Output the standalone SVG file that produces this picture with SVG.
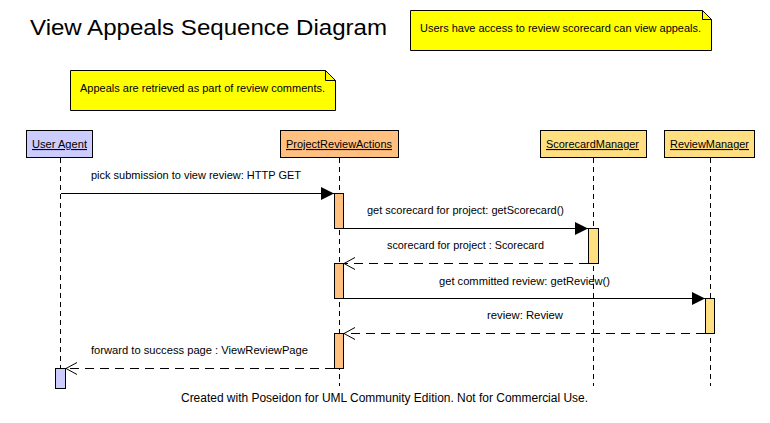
<svg xmlns="http://www.w3.org/2000/svg" width="770" height="423" viewBox="0 0 770 423">
<defs>
<marker id="filled" markerWidth="14" markerHeight="14" refX="13" refY="6.5" orient="auto" markerUnits="userSpaceOnUse">
<path d="M0,0 L13,6.5 L0,13 Z" fill="#000"/>
</marker>
<marker id="open" markerWidth="14" markerHeight="14" refX="11" refY="7" orient="auto" markerUnits="userSpaceOnUse">
<path d="M0,1 L11,7 L0,13" fill="none" stroke="#000" stroke-width="1"/>
</marker>
</defs>
<style>
text{font-family:"Liberation Sans",Arial,sans-serif;fill:#000}
.lbl{font-size:11px}
.box{stroke:#000;stroke-width:1}
.life{stroke:#000;stroke-width:1;stroke-dasharray:5,4;fill:none}
.call{stroke:#000;stroke-width:1;fill:none;marker-end:url(#filled)}
.ret{stroke:#000;stroke-width:1;fill:none;stroke-dasharray:9,6;marker-end:url(#open)}
.note{fill:#ffff00;stroke:#000;stroke-width:1}
.ua{fill:#ccccff}
.pra{fill:#ffc080}
.mgr{fill:#ffdf80}
</style>
<rect width="770" height="423" fill="#fff"/>
<text x="30" y="35" font-size="22" textLength="357" lengthAdjust="spacingAndGlyphs">View Appeals Sequence Diagram</text>

<g id="note1">
<path class="note" d="M410.5,10.5 H702.5 L711.5,19.5 V50.5 H410.5 Z"/>
<path d="M702.5,10.5 V19.5 H711.5" fill="none" stroke="#000"/>
<text class="lbl" x="420" y="32" textLength="281" lengthAdjust="spacingAndGlyphs">Users have access to review scorecard can view appeals.</text>
</g>
<g id="note2">
<path class="note" d="M70.5,70.5 H325.5 L335.5,80.5 V110.5 H70.5 Z"/>
<path d="M325.5,70.5 V80.5 H335.5" fill="none" stroke="#000"/>
<text class="lbl" x="80" y="92" textLength="245" lengthAdjust="spacingAndGlyphs">Appeals are retrieved as part of review comments.</text>
</g>

<g id="useragent">
<rect class="box ua" x="26.5" y="130.5" width="66" height="27"/>
<text class="lbl" x="32" y="148" textLength="55" lengthAdjust="spacingAndGlyphs" text-decoration="underline">User Agent</text>
<line class="life" x1="60.5" y1="158" x2="60.5" y2="368"/>
<rect class="box ua" x="55.5" y="368.5" width="10" height="20"/>
</g>

<g id="projectreviewactions">
<rect class="box pra" x="280.5" y="130.5" width="118" height="27"/>
<text class="lbl" x="286" y="148" textLength="106" lengthAdjust="spacingAndGlyphs" text-decoration="underline">ProjectReviewActions</text>
<line class="life" x1="339.5" y1="158" x2="339.5" y2="386"/>
<rect class="box pra" x="334.5" y="193.5" width="9" height="35"/>
<rect class="box pra" x="334.5" y="263.5" width="9" height="35"/>
<rect class="box pra" x="334.5" y="333.5" width="9" height="35"/>
</g>

<g id="scorecardmanager">
<rect class="box mgr" x="540.5" y="130.5" width="106" height="27"/>
<text class="lbl" x="546" y="148" textLength="93" lengthAdjust="spacingAndGlyphs" text-decoration="underline">ScorecardManager</text>
<line class="life" x1="593.5" y1="158" x2="593.5" y2="386"/>
<rect class="box mgr" x="588.5" y="228.5" width="10" height="35"/>
</g>

<g id="reviewmanager">
<rect class="box mgr" x="664.5" y="130.5" width="90" height="27"/>
<text class="lbl" x="670" y="148" textLength="79" lengthAdjust="spacingAndGlyphs" text-decoration="underline">ReviewManager</text>
<line class="life" x1="710.5" y1="158" x2="710.5" y2="386"/>
<rect class="box mgr" x="705.5" y="298.5" width="9" height="35"/>
</g>

<g id="connectors">
<line class="call" x1="61" y1="193.5" x2="334" y2="193.5"/>
<text class="lbl" x="91" y="179" textLength="210" lengthAdjust="spacingAndGlyphs">pick submission to view review: HTTP GET</text>
<line class="call" x1="344" y1="228.5" x2="588" y2="228.5"/>
<text class="lbl" x="367" y="214" textLength="197" lengthAdjust="spacingAndGlyphs">get scorecard for project: getScorecard()</text>
<line class="ret" x1="588" y1="263.5" x2="344" y2="263.5"/>
<text class="lbl" x="387" y="249" textLength="157" lengthAdjust="spacingAndGlyphs">scorecard for project : Scorecard</text>
<line class="call" x1="344" y1="298.5" x2="705" y2="298.5"/>
<text class="lbl" x="439" y="285" textLength="171" lengthAdjust="spacingAndGlyphs">get committed review: getReview()</text>
<line class="ret" x1="705" y1="333.5" x2="344" y2="333.5"/>
<text class="lbl" x="487" y="319" textLength="76" lengthAdjust="spacingAndGlyphs">review: Review</text>
<line class="ret" x1="334" y1="368.5" x2="66" y2="368.5"/>
<text class="lbl" x="91" y="354" textLength="217" lengthAdjust="spacingAndGlyphs">forward to success page : ViewReviewPage</text>
</g>

<text x="181" y="402" font-size="12" textLength="407" lengthAdjust="spacingAndGlyphs">Created with Poseidon for UML Community Edition. Not for Commercial Use.</text>
</svg>
